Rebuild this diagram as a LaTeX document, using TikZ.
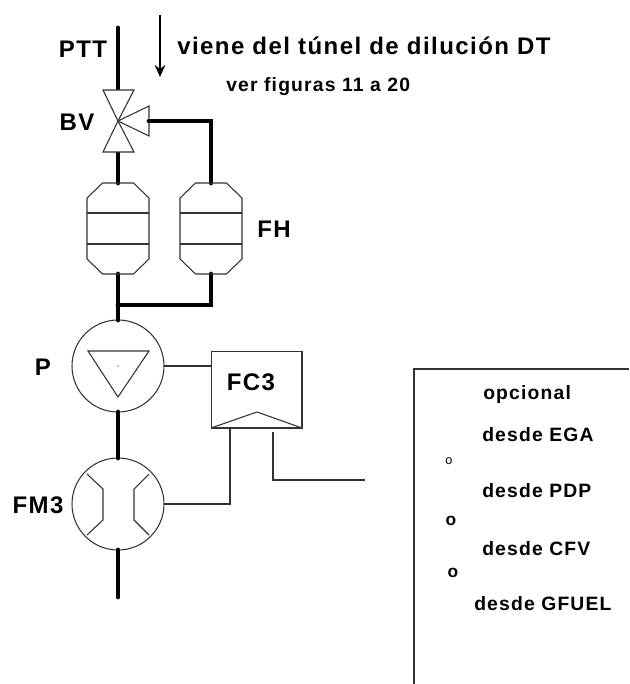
\documentclass[tikz,border=0pt]{standalone}
\usepackage{fontspec}
\setmainfont{Liberation Sans}
\newfontfamily\spacedfont[LetterSpace=6]{Liberation Sans}
\usetikzlibrary{arrows.meta}
\tikzset{
  thinline/.style={line width=0.8pt,draw=black!80},
  pipe/.style={line width=3.6pt,line cap=round},
  filterbox/.style={rectangle,minimum width=46.5pt,minimum height=68.2pt,inner sep=0pt,outer sep=0pt},
  instr/.style={circle,draw=black!80,line width=0.8pt,minimum size=69pt,inner sep=0pt,outer sep=0pt},
  ctrlbox/.style={rectangle,draw=black!80,line width=0.8pt,minimum width=68.2pt,minimum height=57.7pt,inner sep=0pt,outer sep=0pt},
  biglabel/.style={font=\spacedfont\bfseries\fontsize{18}{21}\selectfont,inner sep=0pt},
  midlabel/.style={font=\spacedfont\bfseries\fontsize{14.5}{17}\selectfont,inner sep=0pt},
  orlabel/.style={font=\bfseries\fontsize{13}{15}\selectfont,inner sep=0pt}
}
% octagon with two bands round a filterbox node
\newcommand{\filterbody}[1]{
  \draw[thinline] ([shift={(-15.5,0)}]#1.north) -- ([shift={(15.5,0)}]#1.north)
    -- ([shift={(0,-30.5)}]#1.east) -- ([shift={(0,30.5)}]#1.east)
    -- ([shift={(15.5,0)}]#1.south) -- ([shift={(-15.5,0)}]#1.south)
    -- ([shift={(0,30.5)}]#1.west) -- ([shift={(0,-30.5)}]#1.west) -- cycle;
  \draw[thinline] ([shift={(0,-15.5)}]#1.west) -- ([shift={(0,-15.5)}]#1.east);
  \draw[thinline] ([shift={(0,15.5)}]#1.west) -- ([shift={(0,15.5)}]#1.east);
}
\begin{document}
\begin{tikzpicture}[x=0.75pt,y=-0.75pt]
\useasboundingbox (0,0) rectangle (629,684);
\coordinate (ptt) at (118,28);
\coordinate (bv) at (118,121);
\coordinate (bvtop) at (118,90);
\coordinate (bvbot) at (118,152);
\coordinate (bvside) at (149,121);
\coordinate (fhtee) at (118,305);
\coordinate (fmend) at (118,597);
\node[filterbox] (fha) at (118,228.5) {};
\node[filterbox] (fhb) at (211,228.5) {};
\node[instr] (p) at (118,366) {};
\node[instr] (fm) at (118,504) {};
\node[ctrlbox] (fc) at (256.5,389.5) {};
\coordinate (fcin) at (230,428);
\coordinate (fcout) at (273,432);
\coordinate (fcend) at (365,480);
\coordinate (arrtop) at (160,15);
\coordinate (arrend) at (160,77);

% pipes
\draw[pipe] (ptt) -- (bvtop);
\draw[pipe] (bvbot) -- (fha.north);
\draw[pipe] (bvside) -| (fhb.north);
\draw[pipe] (fha.south) -- (p.north);
\draw[pipe] (fhb.south) |- (fhtee);
\draw[pipe] (p.south) -- (fm.north);
\draw[pipe] (fm.south) -- (fmend);

% valve
\draw[thinline,fill=white] (bv) -- (103,90) -- (134,90) -- cycle;
\draw[thinline,fill=white] (bv) -- (103,152) -- (134,152) -- cycle;
\draw[thinline,fill=white] (bv) -- (149,106) -- (149,136) -- cycle;
\draw[pipe] (bvside) -- ++(1,0);

% filters
\filterbody{fha}
\filterbody{fhb}

% pump and meter
\draw[thinline] (88,351) -- (149,351) -- (118,397) -- cycle;
\fill (p.center) circle (0.6);
\draw[thinline] (87,474) -- (103,489) -- (103,520) -- (87,535);
\draw[thinline] (149,474) -- (134,489) -- (134,520) -- (149,535);

% controller
\draw[thinline] (fc.south west) -- (257,412) -- (fc.south east);
\draw[thinline] (p.east) -- (p.east -| fc.west);
\draw[thinline] (fm.east) -| (fcin);
\draw[thinline] (fcout) |- (fcend);

% frame
\coordinate (frtop) at (414,369);
\coordinate (frright) at (629,369);
\coordinate (frbot) at (414,684);
\draw[thinline] (frright) -- (frtop) -- (frbot);

\draw[line width=1.3pt,-{Stealth[length=9pt,width=8pt]}] (arrtop) -- (arrend);

\node[biglabel] (lptt) at (83,49) {PTT};
\node[biglabel] (lbv) at (77,122) {BV};
\node[biglabel] (lfh) at (274,229) {FH};
\node[biglabel] (lp) at (43,367) {P};
\node[biglabel] (lfm) at (38,505) {FM3};
\node[biglabel] (lfc) at (251,382) {FC3};
\node[biglabel,anchor=west] (lvi) at (177,46) {viene del túnel de dilución DT};
\node[midlabel,anchor=west] (lver) at (226,87) {ver figuras 11 a 20};
\node[midlabel,anchor=west] (lop) at (483,394) {opcional};
\node[midlabel,anchor=west] (lega) at (482,435) {desde EGA};
\node[midlabel,anchor=west] (lpdp) at (482,491) {desde PDP};
\node[midlabel,anchor=west] (lcfv) at (482,549) {desde CFV};
\node[midlabel,anchor=west] (lgf) at (474,604) {desde GFUEL};
\node[font=\fontsize{9.5}{11}\selectfont,inner sep=0pt] (oa) at (449,461) {o};
\node[orlabel] (ob) at (451,521) {o};
\node[orlabel] (oc) at (453,573) {o};
\end{tikzpicture}
\end{document}
